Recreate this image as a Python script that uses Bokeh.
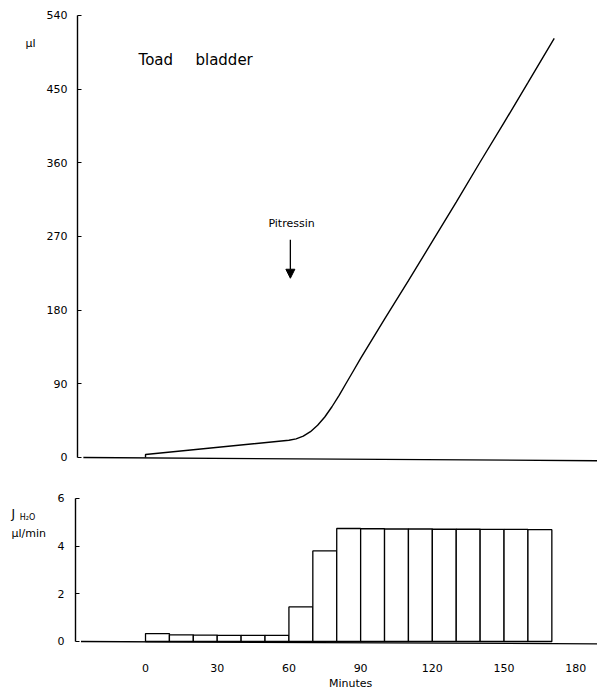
from bokeh.plotting import figure
from bokeh.layouts import column
from bokeh.models import Range1d, Label, Arrow, NormalHead, FixedTicker, LinearAxis
from bokeh.embed import file_html
from bokeh.resources import INLINE

# ---- data ----
# cumulative water transfer (µl) vs time (min)
cum_time = [0, 0, 60, 63, 66, 69, 72, 75, 78, 81, 84, 87, 90, 100, 110, 120, 130, 140, 150, 160, 171]
cum_vol = [0, 3.7, 21, 22.8, 26, 31.5, 39.5, 49.5, 62, 76, 91, 106, 121, 169, 216, 264, 312, 361, 409, 458, 512]
top_base_time = [-26, 189]
top_base_vol = [0, -4]

# water flux J_H2O (µl/min) per 10-min period
bin_left = [0, 10, 20, 30, 40, 50, 60, 70, 80, 90, 100, 110, 120, 130, 140, 150, 160]
bin_right = [10, 20, 30, 40, 50, 60, 70, 80, 90, 100, 110, 120, 130, 140, 150, 160, 170]
flux = [0.33, 0.28, 0.27, 0.26, 0.26, 0.26, 1.45, 3.80, 4.74, 4.73, 4.72, 4.72,
        4.71, 4.71, 4.70, 4.70, 4.69]
bot_base_time = [-27, 189]
bot_base_flux = [0, -0.1]

top_ticks = [0, 90, 180, 270, 360, 450, 540]
bot_yticks = [0, 2, 4, 6]
x_ticks = [0, 30, 60, 90, 120, 150, 180]

FONT = "DejaVu Sans"
X0, X1 = -60.67, 189.1


def style_yaxis(ax, standoff):
    ax.major_tick_in = 4
    ax.major_tick_out = 0
    ax.minor_tick_line_color = None
    ax.axis_line_width = 1.4
    ax.major_tick_line_width = 1.2
    ax.major_label_standoff = standoff
    ax.major_label_text_font = FONT
    ax.major_label_text_font_size = "11px"
    ax.major_label_text_color = "black"


def lab(p, x, y, text, size, align="left"):
    p.add_layout(Label(x=x, y=y, text=text, text_font=FONT, text_font_size=size,
                       text_align=align, text_baseline="middle", text_color="black"))


# ---- top panel ----
p1 = figure(width=597, height=480, output_backend="svg", toolbar_location=None,
            x_range=Range1d(X0, X1), y_range=Range1d(-28.1, 558.3),
            x_axis_location=None, y_axis_location=None,
            min_border_left=0, min_border_right=0, min_border_top=0, min_border_bottom=0)
p1.outline_line_color = None
p1.grid.visible = False
ya = LinearAxis(fixed_location=-28.45, bounds=(0, 540), ticker=FixedTicker(ticks=top_ticks))
style_yaxis(ya, 10)
p1.add_layout(ya, "left")

p1.line(top_base_time, top_base_vol, line_color="black", line_width=1.3)
p1.line(cum_time, cum_vol, line_color="black", line_width=1.4)

lab(p1, -50.2, 505.8, "µl", "11px")
lab(p1, -2.9, 486, "Toad", "15px")
lab(p1, 20.9, 486, "bladder", "15px")
lab(p1, 61.1, 286, "Pitressin", "11px", "center")
p1.add_layout(Arrow(end=NormalHead(size=9, fill_color="black", line_color="black"),
                    x_start=60.6, y_start=266, x_end=60.6, y_end=219,
                    line_color="black", line_width=1.3))

# ---- bottom panel ----
p2 = figure(width=597, height=210, output_backend="svg", toolbar_location=None,
            x_range=Range1d(X0, X1), y_range=Range1d(-2.057, 6.755),
            x_axis_location=None, y_axis_location=None,
            min_border_left=0, min_border_right=0, min_border_top=0, min_border_bottom=0)
p2.outline_line_color = None
p2.grid.visible = False
yb = LinearAxis(fixed_location=-29.3, bounds=(0, 6), ticker=FixedTicker(ticks=bot_yticks))
style_yaxis(yb, 11)
p2.add_layout(yb, "left")

xb = LinearAxis(fixed_location=0, ticker=FixedTicker(ticks=x_ticks))
xb.axis_line_color = None
xb.major_tick_line_color = None
xb.minor_tick_line_color = None
xb.major_label_standoff = 17
xb.major_label_text_font = FONT
xb.major_label_text_font_size = "11px"
xb.major_label_text_color = "black"
p2.add_layout(xb, "below")

p2.line(bot_base_time, bot_base_flux, line_color="black", line_width=1.3)
p2.quad(left=bin_left, right=bin_right, top=flux, bottom=0,
        fill_color="white", line_color="black", line_width=1.3)

lab(p2, -56.1, 5.37, "J", "12px")
lab(p2, -52.6, 5.22, "H₂O", "8px")
lab(p2, -56.1, 4.53, "µl/min", "11px")
lab(p2, 85.8, -1.76, "Minutes", "11px", "center")

layout = column(p1, p2, spacing=0)
open("out.html", "w").write(file_html(layout, INLINE))
